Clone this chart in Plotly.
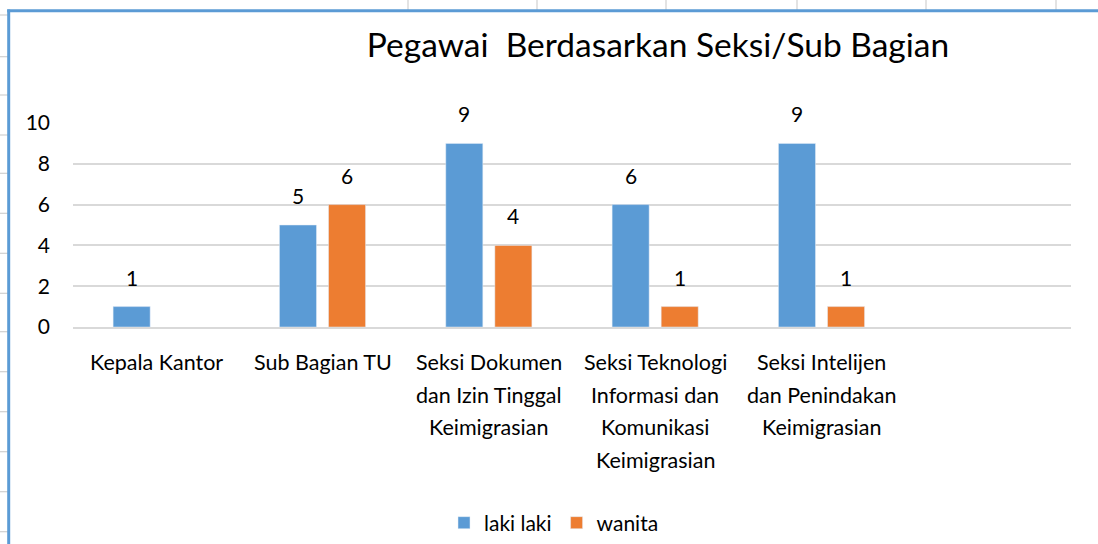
import plotly.graph_objects as go

# ---- data ----
categories = [
    "Kepala Kantor",
    "Sub Bagian TU",
    "Seksi Dokumen<br>dan Izin Tinggal<br>Keimigrasian",
    "Seksi Teknologi<br>Informasi dan<br>Komunikasi<br>Keimigrasian",
    "Seksi Intelijen<br>dan Penindakan<br>Keimigrasian",
]
laki_laki = [1, 5, 9, 6, 9]
wanita = [None, 6, 4, 1, 1]
y_ticks = [0, 2, 4, 6, 8, 10]
title_text = "Pegawai\u00a0 Berdasarkan Seksi/Sub Bagian"

BLUE = "#5b9bd5"
ORANGE = "#ed7d31"
FONT = "Lato"

W, H = 1098, 544
ML, MR, MT, MB = 73, 27, 123, 217
PW = W - ML - MR
PH = H - MT - MB


def px2x(px):
    return (px - ML) / PW


def py2y(py):
    return (H - MB - py) / PH


xs = list(range(len(categories)))

fig = go.Figure()
fig.add_trace(go.Bar(x=xs, y=laki_laki, name="laki laki", marker_color=BLUE))
fig.add_trace(go.Bar(x=xs, y=wanita, name="wanita", marker_color=ORANGE))

annotations = []
lab_font = dict(family=FONT, size=21, color="#000")
for i, v in enumerate(laki_laki):
    if v is not None:
        annotations.append(dict(x=i, y=v, xref="x", yref="y", text=str(v), showarrow=False,
                                xshift=-24.5, yanchor="bottom", yshift=15, font=lab_font))
for i, v in enumerate(wanita):
    if v is not None:
        annotations.append(dict(x=i, y=v, xref="x", yref="y", text=str(v), showarrow=False,
                                xshift=24.5, yanchor="bottom", yshift=15, font=lab_font))

# category labels, one annotation per line (to reproduce the wide line spacing)
for i, cat in enumerate(categories):
    for k, line in enumerate(cat.split("<br>")):
        annotations.append(dict(x=i, y=0, xref="x", yref="y", text=line, showarrow=False,
                                xanchor="center", yanchor="middle", yshift=-35 - 32.7 * k,
                                font=dict(family=FONT, size=21.5, color="#000")))

# spreadsheet background decorations
shapes = []
GRID = "#d0d0d0"
for gy in [15, 56.7, 95, 135, 173.3, 213.3, 253.3, 293.3, 331.7, 371.7, 411.7, 451.7, 491.7, 531.7]:
    shapes.append(dict(type="line", xref="paper", yref="paper", x0=px2x(0), x1=px2x(8),
                       y0=py2y(gy), y1=py2y(gy), line=dict(color=GRID, width=1.2), layer="below"))
for gx in [408, 537, 666, 797, 926, 1056]:
    shapes.append(dict(type="line", xref="paper", yref="paper", x0=px2x(gx), x1=px2x(gx),
                       y0=py2y(0), y1=py2y(10), line=dict(color=GRID, width=1.2), layer="below"))
# chart-area border (blue)
shapes.append(dict(type="line", xref="paper", yref="paper", x0=px2x(8.7), x1=px2x(8.7),
                   y0=py2y(9.5), y1=py2y(H + 5), line=dict(color=BLUE, width=3)))
shapes.append(dict(type="line", xref="paper", yref="paper", x0=px2x(7.2), x1=px2x(W + 5),
                   y0=py2y(10.8), y1=py2y(10.8), line=dict(color=BLUE, width=3)))

fig.update_layout(
    width=W, height=H,
    margin=dict(l=ML, r=MR, t=MT, b=MB, autoexpand=False),
    paper_bgcolor="white", plot_bgcolor="white",
    barmode="group", bargap=0.41, bargroupgap=0.245,
    font=dict(family=FONT, size=21, color="#000"),
    title=dict(text=title_text, x=658 / W, xref="container", xanchor="center",
               y=1 - 45 / H, yref="container", yanchor="middle",
               font=dict(family=FONT, size=33.5, color="#000")),
    xaxis=dict(range=[-0.5, 5.5], tickmode="array", tickvals=xs, ticktext=categories,
               showticklabels=False,
               showgrid=False, zeroline=False, showline=True, linecolor="#d9d9d9", linewidth=1.5,
               ticks="", fixedrange=True),
    yaxis=dict(range=[0, 10], tickmode="array", tickvals=y_ticks, showgrid=True,
               gridcolor="#d9d9d9", gridwidth=1.5, zeroline=False, showline=False, ticks="",
               ticklabelstandoff=22, tickfont=dict(family=FONT, size=21, color="#000"),
               fixedrange=True),
    legend=dict(orientation="h", x=px2x(554), xanchor="center", y=py2y(523), yanchor="middle",
                font=dict(family=FONT, size=21, color="#000"), itemwidth=30,
                traceorder="normal", bgcolor="rgba(0,0,0,0)"),
    annotations=annotations,
    shapes=shapes,
    showlegend=True,
    hovermode=False,
)

fig.write_html("out.html", config={"displayModeBar": False, "staticPlot": False},
               post_script="document.body.style.margin='0';")
